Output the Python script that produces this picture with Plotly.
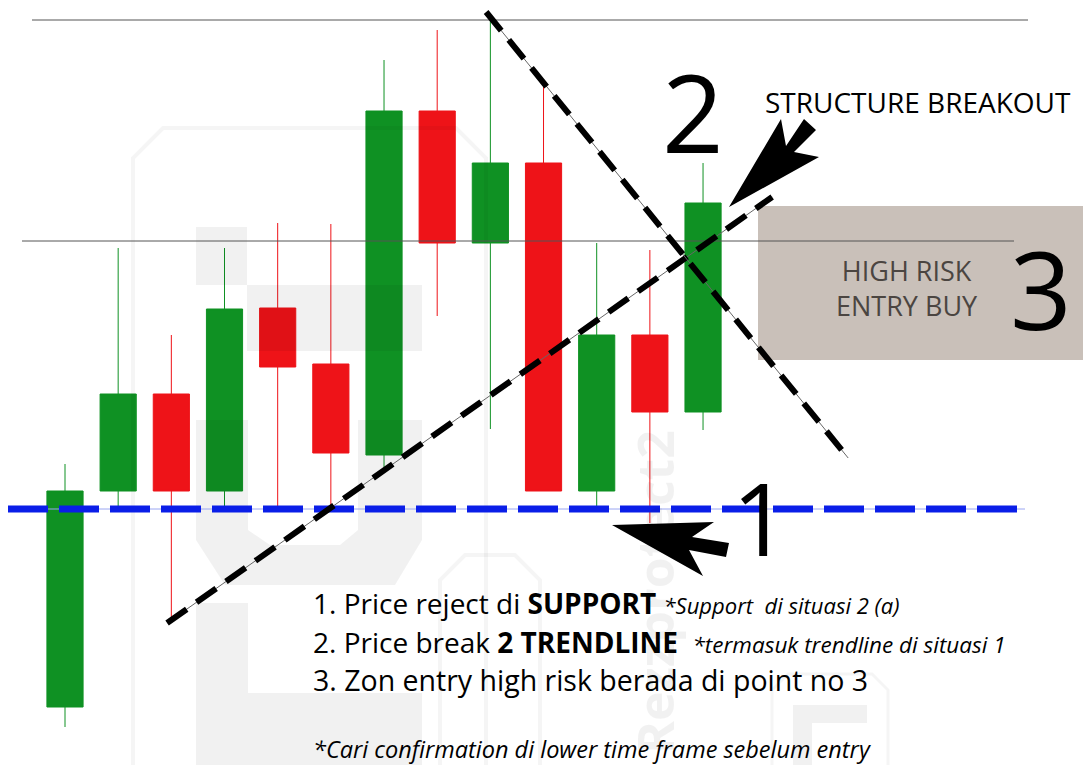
import plotly.graph_objects as go

# ---------------- data (price units) ----------------
candle_index = list(range(13))
open_ = [11.6, 54.8, 74.2, 54.8, 91.4, 80.2, 62.0, 130.8, 104.4, 120.4, 54.8, 86.0, 70.6]
high = [60.2, 103.4, 86.0, 103.4, 108.4, 108.2, 141.0, 147.0, 149.0, 136.4, 104.4, 103.0, 120.4]
low = [7.6, 51.6, 29.0, 51.6, 51.6, 51.6, 59.6, 89.8, 67.2, 54.8, 51.6, 48.4, 67.0]
close = [54.8, 74.2, 54.8, 91.2, 79.6, 62.4, 130.8, 104.4, 120.4, 54.8, 86.0, 70.6, 112.4]

support_level = 51.2
resistance_levels = [149.0, 104.8]

# trendlines: (x0, y0, x1, y1) in candle index / price units
up_trend = (1.92, 28.4, 13.30, 113.6)
down_trend = (7.92, 150.6, 14.73, 61.4)

# ---------------- layout geometry helpers ----------------
W, H = 1083, 765
X0, DX = 65.0, 53.17          # pixel centre of first candle and spacing
PRICE_PER_PX = 0.2


def dx(px):
    return (px - X0) / DX


def dy(py):
    return (H - py) * PRICE_PER_PX


def path(points, close_path=True):
    s = "M " + " L ".join(f"{dx(a):.4f},{dy(b):.4f}" for a, b in points)
    return s + (" Z" if close_path else "")


GREEN = "#0f9123"
RED = "#ee1318"

fig = go.Figure()

fig.add_trace(go.Candlestick(
    x=candle_index, open=open_, high=high, low=low, close=close,
    increasing=dict(line=dict(color=GREEN, width=1), fillcolor=GREEN),
    decreasing=dict(line=dict(color=RED, width=1), fillcolor=RED),
    whiskerwidth=0, hoverinfo="skip", showlegend=False,
))

shapes = []
WM = "rgba(0,0,0,0.055)"
WML = "rgba(0,0,0,0.04)"
# ---- faint watermark (semi-transparent overlay) ----
shapes += [
    dict(type="path", layer="above", line=dict(color=WML, width=4),
         path=path([(133, 770), (133, 158), (163, 128), (456, 128), (486, 158), (486, 770)], False)),
    dict(type="rect", layer="above", line_width=0, fillcolor=WM,
         x0=dx(196), x1=dx(247), y0=dy(227), y1=dy(285)),
    dict(type="rect", layer="above", line_width=0, fillcolor=WM,
         x0=dx(247), x1=dx(422), y0=dy(285), y1=dy(351)),
    dict(type="path", layer="above", line_width=0, fillcolor=WM,
         path=path([(196, 420), (248, 420), (248, 530), (270, 545), (340, 545), (358, 530),
                    (358, 420), (422, 420), (422, 540), (395, 585), (225, 585), (196, 540)])),
    dict(type="rect", layer="above", line_width=0, fillcolor=WM,
         x0=dx(196), x1=dx(248), y0=dy(603), y1=dy(765)),
    dict(type="rect", layer="above", line_width=0, fillcolor=WM,
         x0=dx(248), x1=dx(422), y0=dy(693), y1=dy(765)),
    dict(type="path", layer="above", line=dict(color=WML, width=4),
         path=path([(440, 770), (440, 580), (465, 555), (515, 555), (540, 580), (540, 770)], False)),
    dict(type="path", layer="above", line=dict(color=WML, width=3),
         path=path([(772, 770), (772, 690), (788, 674), (872, 674), (888, 690), (888, 770)], False)),
    dict(type="rect", layer="above", line_width=0, fillcolor=WM,
         x0=dx(793), x1=dx(867), y0=dy(705), y1=dy(723)),
    dict(type="rect", layer="above", line_width=0, fillcolor=WM,
         x0=dx(793), x1=dx(812), y0=dy(723), y1=dy(765)),
]

# ---- high-risk entry zone ----
shapes.append(dict(type="rect", layer="below", line_width=0, fillcolor="#c9c0b9",
                   x0=dx(758), x1=dx(1083), y0=dy(206), y1=dy(360)))

# ---- resistance lines ----
shapes.append(dict(type="line", layer="above", line=dict(color="#555555", width=1),
                   x0=dx(32), x1=dx(1028), y0=resistance_levels[0], y1=resistance_levels[0]))
shapes.append(dict(type="line", layer="above", line=dict(color="#555555", width=1),
                   x0=dx(22), x1=dx(1014), y0=resistance_levels[1], y1=resistance_levels[1]))

# ---- support (blue dashed) ----
shapes.append(dict(type="line", layer="above", line=dict(color="#9aa6f2", width=1),
                   x0=dx(8), x1=dx(1025), y0=support_level, y1=support_level))
shapes.append(dict(type="line", layer="above", line=dict(color="#0a1ee8", width=7, dash="40px,11px"),
                   x0=dx(8), x1=dx(1025), y0=support_level, y1=support_level))

# ---- trendlines ----
for (a, b, c, d) in (up_trend, down_trend):
    shapes.append(dict(type="line", layer="above", line=dict(color="#666666", width=1),
                       x0=a, y0=b, x1=c, y1=d))
    shapes.append(dict(type="line", layer="above", line=dict(color="#000000", width=6, dash="24px,12px"),
                       x0=a, y0=b, x1=c, y1=d))

# ---- arrows ----
shapes.append(dict(type="path", layer="above", line_width=0, fillcolor="#000000",
                   path=path([(612, 525), (714, 522), (692, 537), (729, 543), (726, 557),
                              (689, 550), (703, 576)])))
shapes.append(dict(type="path", layer="above", line_width=0, fillcolor="#000000",
                   path=path([(729, 207), (781, 119), (786, 146), (804, 119), (816, 130),
                              (794, 152), (819, 157)])))

FONT = "Open Sans"


def px_paper(x, y):
    return x / W, 1 - y / H


annotations = []


def add_text(text, x, y, size, color="#000000", xanchor="left", align="left", **kw):
    px, py = px_paper(x, y)
    annotations.append(dict(text=text, x=px, y=py, xref="paper", yref="paper",
                            xanchor=xanchor, yanchor="middle", showarrow=False, align=align,
                            font=dict(family=FONT, size=size, color=color), **kw))


# faint rotated watermark text (drawn first, under the other texts)
add_text("<b>Rezzprotect2</b>", 655, 592, 50, color="rgba(0,0,0,0.055)", xanchor="center",
         textangle=-90)

add_text("2", 693, 111, 108, xanchor="center")
add_text("1", 760, 517, 100, xanchor="center")
add_text("3", 1041, 288, 108, xanchor="center")
add_text("STRUCTURE BREAKOUT", 763, 102, 28)
add_text("HIGH RISK<br>ENTRY BUY", 907, 288, 27, color="#4b4541", xanchor="center", align="center")

it = lambda s, size: f"<i><span style='font-size:{size}px'>{s}</span></i>"
add_text("1. Price reject di <b>SUPPORT</b> " + it("*Support\u00a0 di situasi 2 (a)", 22), 311, 603, 28)
add_text("2. Price break <b>2 TRENDLINE</b>\u00a0\u00a0" + it("*termasuk trendline di situasi 1", 22.5), 311, 642, 28)
add_text("3. Zon entry high risk berada di point no 3", 311, 680, 28.5)
add_text("<i>*Cari confirmation di lower time frame sebelum entry</i>", 311, 749, 23.5)

fig.update_layout(
    width=W, height=H,
    margin=dict(l=0, r=0, t=0, b=0),
    paper_bgcolor="white", plot_bgcolor="white",
    xaxis=dict(range=[dx(0), dx(W)], visible=False, rangeslider=dict(visible=False), fixedrange=True),
    yaxis=dict(range=[dy(H), dy(0)], visible=False, fixedrange=True),
    boxgap=0.32, boxgroupgap=0,
    shapes=shapes, annotations=annotations,
    showlegend=False,
)

fig.write_html("out.html", config={"displayModeBar": False},
               post_script="document.body.style.margin='0px';")
